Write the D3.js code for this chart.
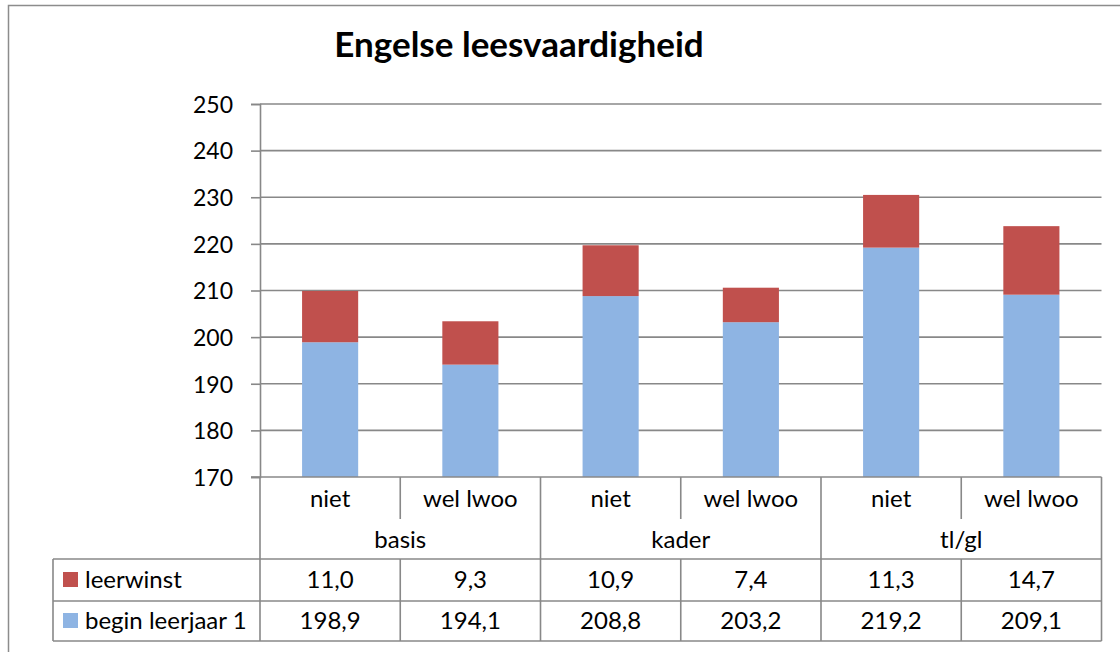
<!DOCTYPE html>
<html>
<head>
<meta charset="utf-8">
<script src="https://cdn.jsdelivr.net/npm/d3@7"></script>
<style>
  html, body { margin: 0; padding: 0; background: #fff; }
  svg { display: block; font-family: Lato, "Open Sans", sans-serif; }
</style>
</head>
<body>
<svg id="chart" width="1120" height="652"></svg>
<script>
// data
var groups = ['basis', 'kader', 'tl/gl'];
var subcats = ['niet', 'wel lwoo', 'niet', 'wel lwoo', 'niet', 'wel lwoo'];
var subGroup = ['basis', 'basis', 'kader', 'kader', 'tl/gl', 'tl/gl'];
var beginLeerjaar = [198.9, 194.1, 208.8, 203.2, 219.2, 209.1];
var leerwinst = [11.0, 9.3, 10.9, 7.4, 11.3, 14.7];
var seriesNames = ['leerwinst', 'begin leerjaar 1'];
var yTicks = [170, 180, 190, 200, 210, 220, 230, 240, 250];

var colors = { 'begin leerjaar 1': '#8EB4E3', 'leerwinst': '#C0504D' };
var lineColor = '#888888';

var svg = d3.select('#chart');

// layout
var plotLeft = 260, plotRight = 1101.5, plotTop = 104, plotBottom = 477;
var rowSubBottom = 519, rowGroupBottom = 559, rowOneBottom = 601, tableBottom = 641;
var legendLeft = 53;

var y = d3.scaleLinear().domain([170, 250]).range([plotBottom, plotTop]);
var x = d3.scaleBand().domain(d3.range(subcats.length)).range([plotLeft, plotRight]).padding(0);
var xg = d3.scaleBand().domain(groups).range([plotLeft, plotRight]).padding(0);
var fmt = d3.formatLocale({ decimal: ',', thousands: '.', grouping: [3], currency: ['€', ''] }).format('.1f');

// outer frame
svg.append('rect')
  .attr('x', 8.5).attr('y', 5.5)
  .attr('width', 1200).attr('height', 800)
  .attr('fill', 'none').attr('stroke', '#8c8c8c').attr('stroke-width', 1.5);

// title
svg.append('text')
  .attr('x', 519).attr('y', 57)
  .attr('text-anchor', 'middle')
  .attr('font-weight', 'bold')
  .attr('font-size', 35)
  .attr('fill', '#000')
  .text('Engelse leesvaardigheid');

// gridlines
svg.append('g')
  .selectAll('line')
  .data(yTicks.filter(d => d > 170))
  .enter().append('line')
    .attr('x1', plotLeft).attr('x2', plotRight)
    .attr('y1', d => y(d)).attr('y2', d => y(d))
    .attr('stroke', lineColor).attr('stroke-width', 1.6);

// y axis
var yAxis = svg.append('g')
  .attr('transform', 'translate(' + plotLeft + ',0)')
  .call(d3.axisLeft(y).tickValues(yTicks).tickSize(9).tickPadding(18).tickFormat(d3.format('d')));
yAxis.select('.domain').attr('stroke', lineColor).attr('stroke-width', 1.6);
yAxis.selectAll('.tick line').attr('stroke', lineColor).attr('stroke-width', 1.6);
yAxis.selectAll('.tick text')
  .attr('font-size', 23)
  .attr('font-family', 'Lato, sans-serif')
  .attr('fill', '#000')
  .attr('dy', '0.36em');

// stacked bars
var barW = x.bandwidth() * 0.4;
var bars = svg.append('g');
bars.selectAll('rect.begin')
  .data(beginLeerjaar)
  .enter().append('rect')
    .attr('class', 'begin')
    .attr('x', (d, i) => x(i) + (x.bandwidth() - barW) / 2)
    .attr('width', barW)
    .attr('y', d => y(d))
    .attr('height', d => y(170) - y(d))
    .attr('fill', colors['begin leerjaar 1']);
bars.selectAll('rect.gain')
  .data(leerwinst)
  .enter().append('rect')
    .attr('class', 'gain')
    .attr('x', (d, i) => x(i) + (x.bandwidth() - barW) / 2)
    .attr('width', barW)
    .attr('y', (d, i) => y(beginLeerjaar[i] + d))
    .attr('height', (d, i) => y(beginLeerjaar[i]) - y(beginLeerjaar[i] + d))
    .attr('fill', colors['leerwinst']);

// data table lines
var table = svg.append('g').attr('stroke', lineColor).attr('stroke-width', 1.6);
function hline (y0, x0, x1) {
  table.append('line').attr('x1', x0).attr('x2', x1).attr('y1', y0).attr('y2', y0);
}
function vline (x0, y0, y1) {
  table.append('line').attr('x1', x0).attr('x2', x0).attr('y1', y0).attr('y2', y1);
}
hline(plotBottom, plotLeft - 9, plotRight);
hline(rowGroupBottom, legendLeft, plotRight);
hline(rowOneBottom, legendLeft, plotRight);
hline(tableBottom, legendLeft, plotRight);
vline(legendLeft, rowGroupBottom, tableBottom);
vline(plotLeft, plotBottom, tableBottom);
vline(plotRight, plotBottom, tableBottom);
groups.forEach(g => {
  if (xg(g) > plotLeft) vline(xg(g), plotBottom, tableBottom);
});
subcats.forEach((s, i) => {
  var xs = x(i);
  if (i % 2 === 1) {
    vline(xs, plotBottom, rowSubBottom);
    vline(xs, rowGroupBottom, tableBottom);
  }
});

// table text
var txt = svg.append('g').attr('font-size', 24).attr('fill', '#000').attr('text-anchor', 'middle');
txt.selectAll('text.sub')
  .data(subcats)
  .enter().append('text')
    .attr('x', (d, i) => x(i) + x.bandwidth() / 2)
    .attr('y', 507)
    .text(d => d);
txt.selectAll('text.grp')
  .data(groups)
  .enter().append('text')
    .attr('x', d => xg(d) + xg.bandwidth() / 2)
    .attr('y', 548)
    .text(d => d);
txt.selectAll('text.gain')
  .data(leerwinst)
  .enter().append('text')
    .attr('x', (d, i) => x(i) + x.bandwidth() / 2)
    .attr('y', 588)
    .text(d => fmt(d));
txt.selectAll('text.begin')
  .data(beginLeerjaar)
  .enter().append('text')
    .attr('x', (d, i) => x(i) + x.bandwidth() / 2)
    .attr('y', 629)
    .text(d => fmt(d));

// legend keys in table
var legendRows = [588, 629];
var leg = svg.append('g');
seriesNames.forEach((name, i) => {
  leg.append('rect')
    .attr('x', 63).attr('y', legendRows[i] - 16)
    .attr('width', 15).attr('height', 15)
    .attr('fill', colors[name]);
  leg.append('text')
    .attr('x', 85).attr('y', legendRows[i])
    .attr('font-size', 24).attr('fill', '#000')
    .text(name);
});
</script>
</body>
</html>
